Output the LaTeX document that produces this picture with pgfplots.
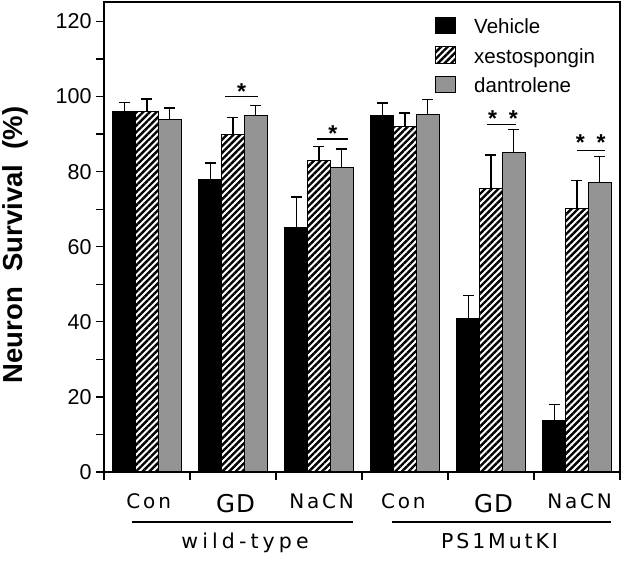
\documentclass[border=0pt]{standalone}
\usepackage{pgfplots}
\pgfplotsset{compat=1.18}
\usetikzlibrary{patterns.meta}
\usepackage{fontspec}
\setmainfont{Liberation Sans}
\newfontfamily\catfont[LetterSpace=14]{DejaVu Sans}
\newfontfamily\gdfont[LetterSpace=4]{DejaVu Sans}
\newfontfamily\grpfont[LetterSpace=20]{DejaVu Sans}
\newfontfamily\grpfontb[LetterSpace=14]{DejaVu Sans}

\pgfplotstableread{
x y e
0.5 96 2.4
1.5 78 4.3
2.5 65 8.2
3.5 95 3.3
4.5 40.8 6.2
5.5 13.7 4.3
}\vehicle
\pgfplotstableread{
x y e
0.5 96 3.4
1.5 90 4.4
2.5 83 3.7
3.5 92 3.6
4.5 75.4 9.0
5.5 70.3 7.3
}\xesto
\pgfplotstableread{
x y e
0.5 94 2.9
1.5 95 2.6
2.5 81 5.0
3.5 95.2 4.0
4.5 85.2 6.0
5.5 77.2 6.8
}\dantro

\begin{document}
\begin{tikzpicture}
\useasboundingbox (0pt,0pt) rectangle (624pt,561pt);
\begin{axis}[
  at={(104pt,89pt)}, anchor=south west,
  scale only axis, width=516pt, height=470pt,
  xmin=0, xmax=6, ymin=0, ymax=125.2,
  enlarge x limits=false,
  xtick={0,...,6}, xticklabels={},
  ytick={0,20,...,120}, minor y tick num=1,
  tick align=outside, tick pos=left,
  major tick length=8pt, minor tick length=8pt,
  axis line style={line width=1.4pt},
  every tick/.style={line width=1.3pt, black},
  /pgf/number format/assume math mode=true,
  yticklabel style={font=\fontsize{21.5}{24}\selectfont, xshift=-1pt},
  ylabel={\bfseries Neuron\ \ Survival\ \ (\%)},
  every axis y label/.style={at={(axis description cs:-0.172,0.483)}, rotate=90, anchor=center, font=\fontsize{27.5}{30}\selectfont},
  clip=false,
  ybar, bar width=0.264,
  legend image code/.code={\draw[#1, line width=1pt] (0pt,0pt) rectangle (20pt,16.5pt);},
  legend style={draw=none, fill=none, at={(axis description cs:0.6415,0.9687)}, anchor=north west,
    inner sep=0pt, row sep=8.5pt, font=\fontsize{20.5}{24}\selectfont,
    nodes={inner sep=0pt, text height=15pt, text depth=4pt, anchor=base west},
    /tikz/every odd column/.append style={column sep=18pt}},
  legend cell align=left,
  error bars/y dir=plus, error bars/y explicit,
  error bars/error bar style={line width=1.4pt, black},
  error bars/error mark options={rotate=90, mark size=5.5pt, line width=1.6pt, black},
]
\addplot[bar shift=-0.264, fill=black, draw=black, line width=1pt] table[x=x, y=y, y error=e] {\vehicle};
\addplot[bar shift=0, draw=black, line width=1pt, fill=white, postaction={pattern={Lines[angle=45, distance=4.7pt, line width=2.4pt]}, pattern color=black}] table[x=x, y=y, y error=e] {\xesto};
\addplot[bar shift=0.264, fill=black!42, draw=black, line width=1pt] table[x=x, y=y, y error=e] {\dantro};
\legend{Vehicle, xestospongin, dantrolene}

% significance markers
\tikzset{star/.style={anchor=base, yshift=-13.5pt, font=\bfseries\fontsize{23}{24}\selectfont, inner sep=0pt}}
\draw[line width=1.4pt] (axis cs:1.41,100.0) -- (axis cs:1.79,100.0);
\node[star] at (axis cs:1.60,102.7) {*};
\draw[line width=1.4pt] (axis cs:2.48,88.7) -- (axis cs:2.84,88.7);
\node[star] at (axis cs:2.66,91.7) {*};
\draw[line width=1.4pt] (axis cs:4.45,92.5) -- (axis cs:4.79,92.5);
\node[star] at (axis cs:4.52,95.6) {*};
\node[star] at (axis cs:4.76,95.6) {*};
\draw[line width=1.4pt] (axis cs:5.50,85.7) -- (axis cs:5.83,85.7);
\node[star] at (axis cs:5.54,89.2) {*};
\node[star] at (axis cs:5.78,89.2) {*};

% category labels
\tikzset{cat/.style={anchor=base, yshift=-37pt, inner sep=0pt, font=\catfont\fontsize{20}{22}\selectfont},
         gd/.style={anchor=base, yshift=-41pt, inner sep=0pt, font=\gdfont\fontsize{24.5}{28}\selectfont}}
\node[cat] at (axis cs:0.52,0) {Con};
\node[gd] at (axis cs:1.53,0) {GD};
\node[cat] at (axis cs:2.53,0) {NaCN};
\node[cat] at (axis cs:3.48,0) {Con};
\node[gd] at (axis cs:4.53,0) {GD};
\node[cat] at (axis cs:5.53,0) {NaCN};
\draw[line width=1.4pt] ([yshift=-50pt]axis cs:0.33,0) -- ([yshift=-50pt]axis cs:2.90,0);
\draw[line width=1.4pt] ([yshift=-50pt]axis cs:3.35,0) -- ([yshift=-50pt]axis cs:5.90,0);
\node[anchor=base, yshift=-77pt, inner sep=0pt, font=\grpfont\fontsize{20.5}{22}\selectfont] at (axis cs:1.64,0) {wild-type};
\node[anchor=base, yshift=-77pt, inner sep=0pt, font=\grpfontb\fontsize{20.5}{22}\selectfont] at (axis cs:4.60,0) {PS1MutKI};
\end{axis}
\end{tikzpicture}
\end{document}
